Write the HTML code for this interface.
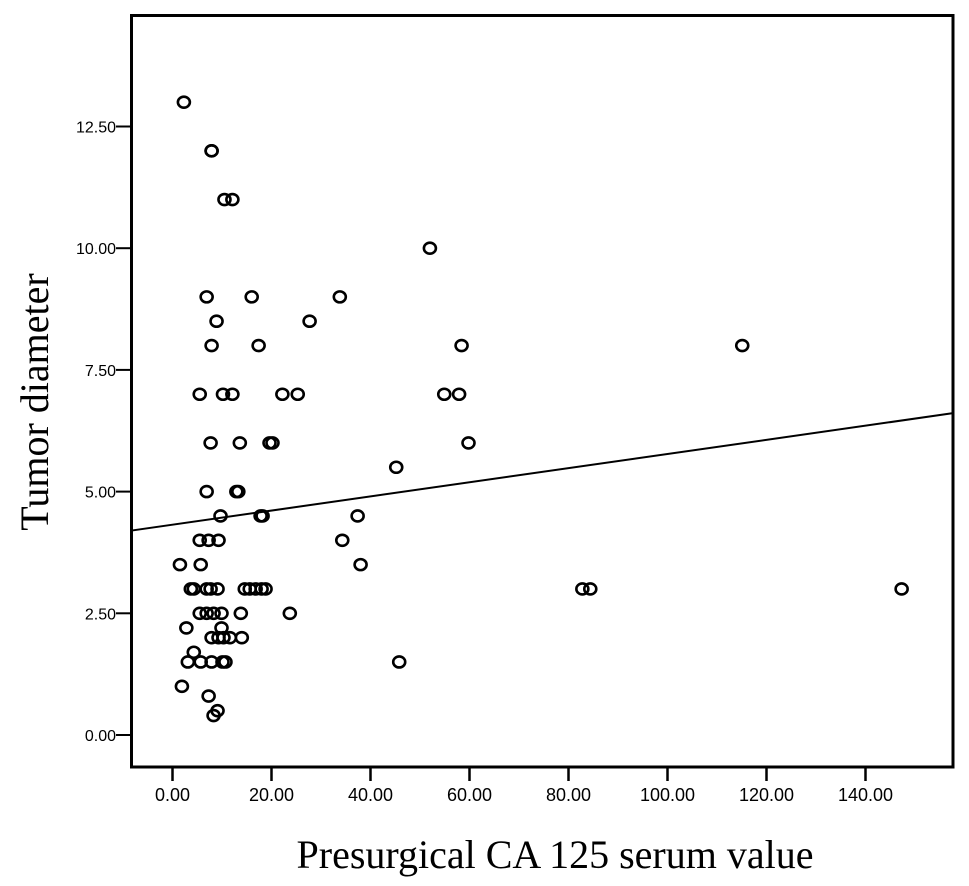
<!DOCTYPE html>
<html><head><meta charset="utf-8"><style>
html,body{margin:0;padding:0;background:#fff;}
svg{display:block;}
</style></head><body>
<svg id="chart" width="969" height="886" xmlns="http://www.w3.org/2000/svg">
<rect x="131.5" y="15.5" width="821.5" height="751.5" fill="#fff" stroke="#000" stroke-width="3"/>
<g id="xaxis"></g>
<g id="yaxis"></g>
<g id="marks"></g>
<text transform="translate(48,402) rotate(-90)" text-anchor="middle" font-family="Liberation Serif, serif" font-size="40">Tumor diameter</text>
<text x="555" y="868" text-anchor="middle" font-family="Liberation Serif, serif" font-size="40">Presurgical CA 125 serum value</text>
</svg>
<script>
const xValues=[2.3,7.9,7.9,10.5,12.1,52,6.9,16,33.8,8.9,27.7,7.9,17.4,58.4,115.1,5.5,10.2,12.1,22.2,25.3,54.9,57.9,7.7,13.6,19.6,20.2,59.8,6.9,12.9,13.3,45.2,9.7,17.8,18.2,37.4,5.5,7.3,9.3,34.3,1.5,5.7,38,3.7,4.3,6.9,7.7,9.1,14.6,15.6,16.8,18,18.8,82.8,84.4,147.3,5.5,6.9,8.3,9.9,13.8,23.7,2.8,9.9,7.9,9.3,10.3,11.6,14,4.3,3.1,5.7,7.9,10.1,10.7,45.8,1.9,7.3,9.1,8.3];
const yValues=[13,12,12,11,11,10,9,9,9,8.5,8.5,8,8,8,8,7,7,7,7,7,7,7,6,6,6,6,6,5,5,5,5.5,4.5,4.5,4.5,4.5,4,4,4,4,3.5,3.5,3.5,3,3,3,3,3,3,3,3,3,3,3,3,3,2.5,2.5,2.5,2.5,2.5,2.5,2.2,2.2,2,2,2,2,2,1.7,1.5,1.5,1.5,1.5,1.5,1.5,1,0.8,0.5,0.4];
const xTicks=[0,20,40,60,80,100,120,140];
const yTicks=[0,2.5,5,7.5,10,12.5];
const fitIntercept=4.32, fitSlope=0.01453;
const NS="http://www.w3.org/2000/svg";
function sx(v){return 172.5+v*4.95;}
function sy(v){return 735-v*48.68;}
function mk(t,a,p){const e=document.createElementNS(NS,t);for(const k in a)e.setAttribute(k,a[k]);p.appendChild(e);return e;}
const xa=document.getElementById('xaxis'),ya=document.getElementById('yaxis'),mg=document.getElementById('marks');
xTicks.forEach(v=>{
 const l=mk('line',{x1:sx(v),x2:sx(v),y1:768,y2:781,stroke:'#000','stroke-width':2.5},xa);
 
 
 const t=mk('text',{x:sx(v),y:801,'text-anchor':'middle','font-family':'Liberation Sans, sans-serif','font-size':18},xa);
 t.textContent=v.toFixed(2);
 
 
});
yTicks.forEach(v=>{
 const l=mk('line',{x1:116,x2:131,y1:sy(v),y2:sy(v),stroke:'#000','stroke-width':2},ya);
 
 
 const t=mk('text',{x:116,y:sy(v)+6,'text-anchor':'end','font-family':'Liberation Sans, sans-serif','font-size':16},ya);
 t.textContent=v.toFixed(2);
 
 
});
const x0=(131.5-172.5)/4.95,x1=(953-172.5)/4.95;
const fl=mk('line',{x1:sx(x0),y1:sy(fitIntercept+fitSlope*x0),x2:sx(x1),y2:sy(fitIntercept+fitSlope*x1),stroke:'#000','stroke-width':2},mg);


xValues.forEach((v,i)=>{
 const c=mk('ellipse',{cx:sx(v),cy:sy(yValues[i]),rx:6,ry:5.5,fill:'none',stroke:'#000','stroke-width':2.6},mg);
 
 
});
</script>
</body></html>
